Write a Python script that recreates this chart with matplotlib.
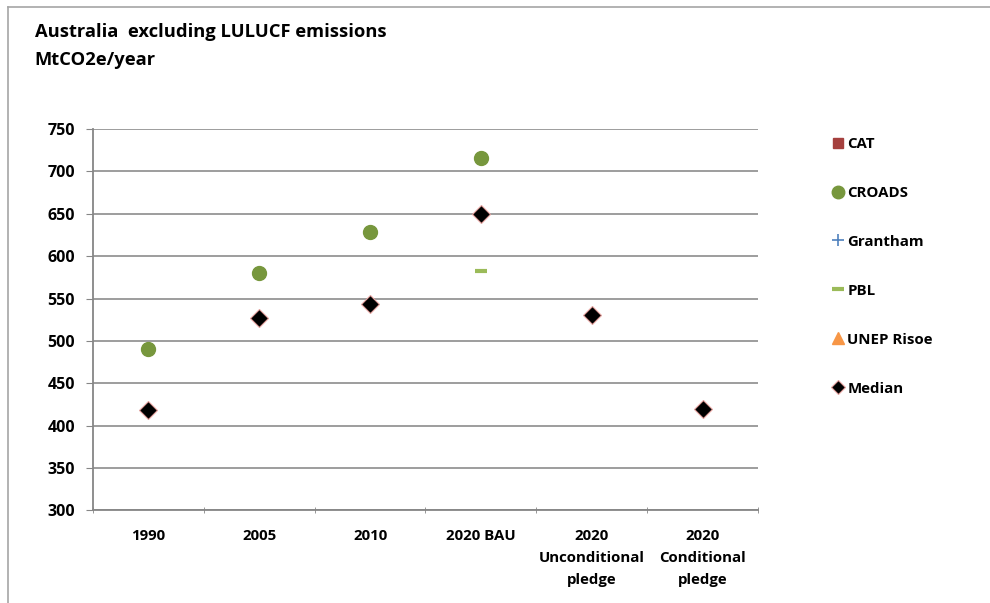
import numpy as np
import matplotlib.pyplot as plt
from matplotlib.lines import Line2D

plt.rcParams['font.family'] = ['Open Sans', 'DejaVu Sans']
plt.rcParams['font.weight'] = 'bold'

categories = ['1990', '2005', '2010', '2020 BAU',
              '2020\nUnconditional\npledge', '2020\nConditional\npledge']
nan = np.nan
cat = [nan, nan, nan, nan, nan, nan]
croads = [490, 580, 629, 716, nan, nan]
grantham = [nan, nan, nan, nan, nan, nan]
pbl = [nan, nan, nan, 583, nan, nan]
unep = [nan, nan, nan, nan, nan, nan]
median = [418, 527, 544, 650, 531, 420]

fig = plt.figure(figsize=(9.9, 6.03), dpi=100)
ax = fig.add_axes([0.0939, 0.1534, 0.6717, 0.6327])

x = np.arange(len(categories))
ax.plot(x, cat, 's', color='#A5403E', markersize=7, label='CAT')
ax.plot(x, croads, 'o', color='#77973D', markersize=10, label='CROADS')
ax.plot(x, grantham, '+', color='#4F81BD', markersize=9, mew=1.2, label='Grantham')
ax.plot(x, pbl, '_', color='#9BBB59', markersize=8, mew=3, label='PBL')
ax.plot(x, unep, '^', color='#F79646', markersize=9, label='UNEP Risoe')
ax.plot(x, median, 'D', color='black', markeredgecolor='#E6A3A0',
        markeredgewidth=0.8, markersize=9, label='Median')

ax.set_xlim(-0.5, len(categories) - 0.5)
ax.set_ylim(300, 750)
ax.set_yticks(np.arange(300, 751, 50))
ax.set_xticks(x)
ax.set_xticklabels(categories, fontsize=10.8, fontweight='bold', linespacing=1.75)
ax.set_xticks(np.arange(-0.5, len(categories), 1), minor=True)
ax.tick_params(axis='x', which='major', length=0, pad=13)
ax.tick_params(axis='x', which='minor', length=5, direction='inout', color='#868686')
ax.tick_params(axis='y', length=5, color='#868686', labelsize=11.5, pad=8)
for lbl in ax.get_yticklabels():
    lbl.set_fontweight('bold')

ax.yaxis.grid(True, color='#8C8C8C', linewidth=1.2)
ax.set_axisbelow(True)
for s in ['top', 'right']:
    ax.spines[s].set_visible(False)
for s in ['left', 'bottom']:
    ax.spines[s].set_color('#868686')
    ax.spines[s].set_linewidth(1.3)

leg = ax.legend(loc='upper left', bbox_to_anchor=(1.095, 1.007), frameon=False,
                fontsize=10.8, labelspacing=2.33, handlelength=0.8,
                handletextpad=0.25, borderaxespad=0.3, numpoints=1)
for t in leg.get_texts():
    t.set_fontweight('bold')
leg_sizes = [7, 9, 9, 8, 9, 7]
for h, ms in zip(leg.legend_handles, leg_sizes):
    h.set_markersize(ms)

fig.text(0.035, 0.947, 'Australia  excluding LULUCF emissions', fontsize=13.2,
         fontweight='bold', va='center')
fig.text(0.035, 0.9, 'MtCO2e/year', fontsize=13.2, fontweight='bold', va='center')

# chart frame edges
fig.add_artist(Line2D([0.008, 1.0], [0.989, 0.989], color='#A6A6A6', lw=1.2))
fig.add_artist(Line2D([0.008, 0.008], [0.0, 0.989], color='#A6A6A6', lw=1.2))

fig.savefig('out.png', dpi=100)
